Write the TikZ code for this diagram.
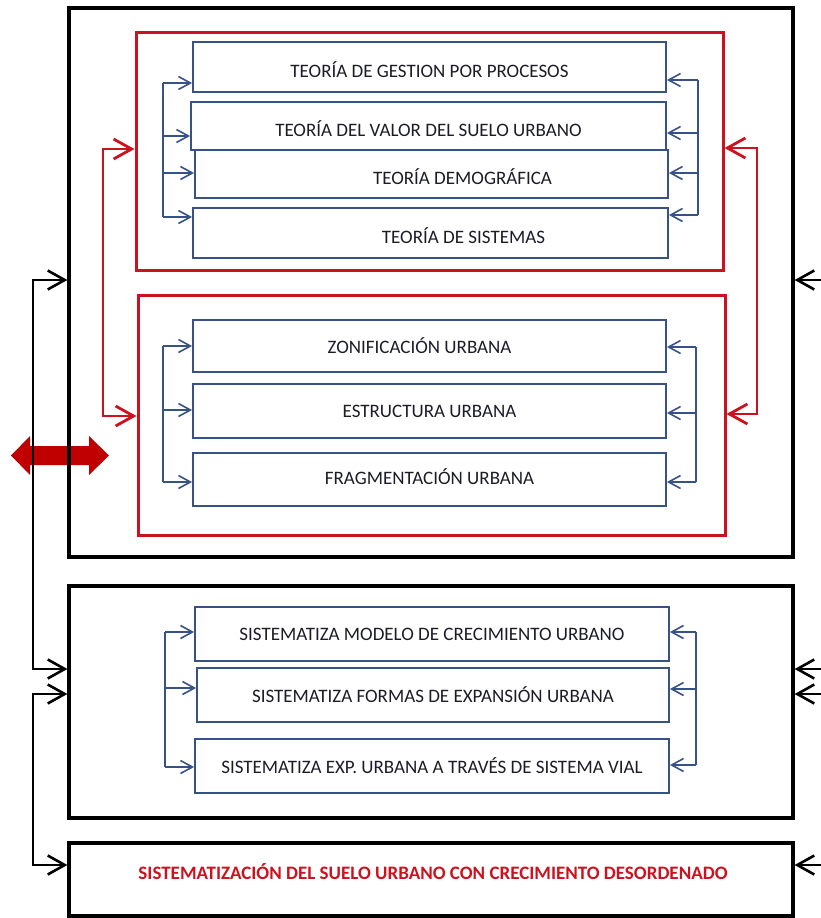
\documentclass[tikz,border=0pt]{standalone}
\usepackage{fontspec}
\setmainfont{Carlito}
\usetikzlibrary{arrows.meta, positioning}
\definecolor{azul}{RGB}{54,82,134}
\definecolor{rojo}{RGB}{204,18,30}
\definecolor{rojoosc}{RGB}{192,0,0}
\definecolor{texto}{RGB}{28,28,40}

\begin{document}
\begin{tikzpicture}[x=1pt, y=-1pt,
		caja/.style={draw=azul, line width=1.8pt, minimum width=473pt, inner sep=0pt, text=texto, font=\fontsize{19}{22}\selectfont},
		bajo/.style={text height=20pt, text depth=0pt},
		marco/.style={draw=black, line width=3.2pt, minimum width=724pt, inner sep=0pt},
		marcorojo/.style={draw=rojo, line width=3pt, minimum width=587pt, inner sep=0pt},
		lineaazul/.style={azul, line width=1.6pt},
		flechaazul/.style={azul, line width=1.6pt, -{Straight Barb[length=12pt,width=13pt]}},
		flechanegra/.style={black, line width=2.6pt, {Straight Barb[length=17pt,width=19pt]}-{Straight Barb[length=17pt,width=19pt]}},
		flechasola/.style={black, line width=2.6pt, -{Straight Barb[length=17pt,width=19pt]}},
		flecharoja/.style={rojo, line width=2.8pt, {Straight Barb[length=18pt,width=20pt]}-{Straight Barb[length=18pt,width=20pt]}}]
				\useasboundingbox (0,0) rectangle (821,918);
				\coordinate (borde) at (821,0);

				% flecha doble roja
				\fill[rojoosc] (11,455.5) -- (30,436) -- (30,446) -- (89,446) -- (89,436) -- (109,455.5)
					-- (89,475) -- (89,465) -- (30,465) -- (30,475) -- cycle;

				\node[marco, minimum height=549pt] (top) at (431,282.5) {};
				\node[marco, minimum height=232pt] (mid) at (431,702) {};
				\node[marco, minimum height=73pt] (bot) at (431,879.5) {};
				\node[text=rojo, font=\fontsize{19}{22}\selectfont\bfseries] (botlbl) at (433,872) {SISTEMATIZACIÓN DEL SUELO URBANO CON CRECIMIENTO DESORDENADO};

				\node[marcorojo, minimum height=238pt] (r1) at (429.5,151) {};
				\node[marcorojo, minimum height=240pt] (r2) at (431.5,415) {};

				% teorías
				\node[caja, bajo, minimum height=50pt] (t1) at (429.5,67) {TEORÍA DE GESTION POR PROCESOS};
				\node[caja, bajo, minimum width=475pt, minimum height=48pt] (t2) at (428.5,126) {TEORÍA DEL VALOR DEL SUELO URBANO};
				\node[caja, bajo, minimum height=48pt] (t3) at (431.5,174) {\hspace*{62pt}TEORÍA DEMOGRÁFICA};
				\node[caja, bajo, minimum width=475pt, minimum height=50pt] (t4) at (430.5,233) {\hspace*{66pt}TEORÍA DE SISTEMAS};

				\node[caja, minimum height=52pt] (z1) at (429.5,346) {\hspace*{-20pt}ZONIFICACIÓN URBANA};
				\node[caja, minimum height=54pt] (z2) at (429.5,411) {ESTRUCTURA URBANA};
				\node[caja, text height=10pt, text depth=0pt, minimum height=53pt] (z3) at (429.5,479.5) {FRAGMENTACIÓN URBANA};

				\node[caja, minimum width=474pt, minimum height=54pt] (s1) at (432,634) {SISTEMATIZA MODELO DE CRECIMIENTO URBANO};
				\node[caja, minimum width=472pt, minimum height=54pt] (s2) at (433,695) {SISTEMATIZA FORMAS DE EXPANSIÓN URBANA};
				\node[caja, minimum width=474pt, minimum height=54pt] (s3) at (432,766) {SISTEMATIZA EXP. URBANA A TRAVÉS DE SISTEMA VIAL};

				% corchetes azules
				\draw[lineaazul] (163,83) -- (163,217);
				\foreach \n/\y in {t1/83,t2/136,t3/173,t4/217}
					\draw[flechaazul] (163,\y) -- (\n.west |- 0,\y);
				\draw[lineaazul] (698,80) -- (698,215);
				\foreach \n/\y in {t1/80,t2/133,t3/173,t4/215}
					\draw[flechaazul] (698,\y) -- (\n.east |- 0,\y);

				\draw[lineaazul] (163,346) -- (163,482);
				\foreach \n/\y in {z1/346,z2/410,z3/482}
					\draw[flechaazul] (163,\y) -- (\n.west |- 0,\y);
				\draw[lineaazul] (696,347) -- (696,482);
				\foreach \n/\y in {z1/347,z2/413,z3/482}
					\draw[flechaazul] (696,\y) -- (\n.east |- 0,\y);

				\draw[lineaazul] (165,632) -- (165,767);
				\foreach \n/\y in {s1/632,s2/688,s3/767}
					\draw[flechaazul] (165,\y) -- (\n.west |- 0,\y);
				\draw[lineaazul] (696,632) -- (696,765);
				\foreach \n/\y in {s1/632,s2/689,s3/765}
					\draw[flechaazul] (696,\y) -- (\n.east |- 0,\y);

				% conectores rojos
				\draw[flecharoja] (r1.west |- 0,149) -- (103,149) -- (103,416) -- (r2.west |- 0,416);
				\draw[flecharoja] (r1.east |- 0,148) -- (757,148) -- (757,414) -- (r2.east |- 0,414);

				% conectores negros
				\draw[flechanegra] (top.west |- 0,280) -- (33,280) -- (33,669) -- (mid.west |- 0,669);
				\draw[flechanegra] (mid.west |- 0,694) -- (33,694) -- (33,865) -- (bot.west |- 0,865);
				\foreach \n/\y in {top/280,mid/669,mid/694,bot/865}
					\draw[flechasola] (borde |- 0,\y) -- (\n.east |- 0,\y);
\end{tikzpicture}
\end{document}
